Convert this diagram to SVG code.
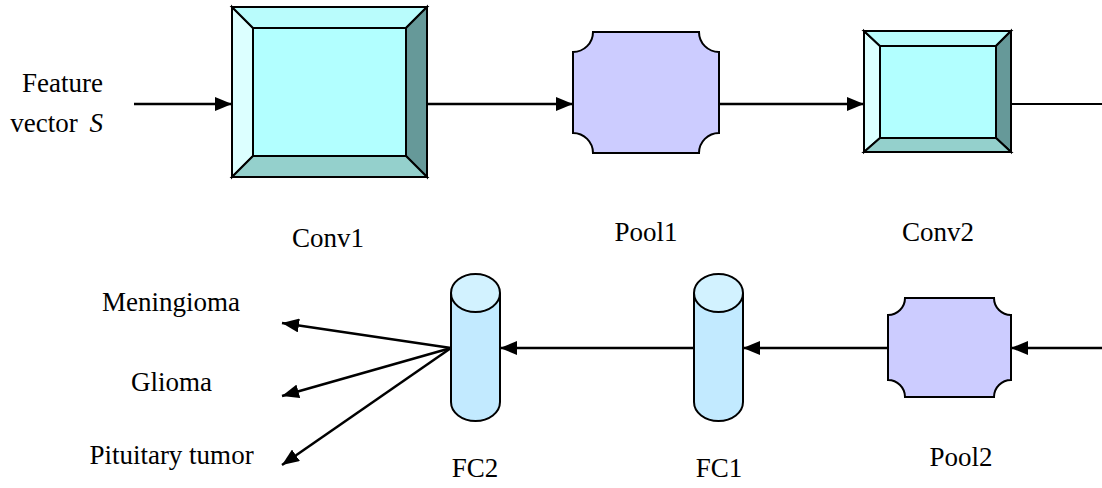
<svg xmlns="http://www.w3.org/2000/svg" width="1102" height="488" viewBox="0 0 1102 488">
  <style>
    .edge { fill: none; stroke: #000; stroke-width: 2.5; }
    .ol { stroke: #000; stroke-width: 2; stroke-linejoin: miter; }
    .bv-l { fill: #dcffff; }
    .bv-t { fill: #b9fcfc; }
    .bv-c { fill: #b2ffff; }
    .bv-r { fill: #669999; }
    .bv-b { fill: #94d0cc; }
    .pool { fill: #ccccff; stroke: #000; stroke-width: 2; }
    .cyl { fill: #c2eaff; stroke: #000; stroke-width: 2; }
    .cyl-top { fill: #d2f2ff; stroke: #000; stroke-width: 2; }
  </style>
  <defs>
    <marker id="arrow" markerUnits="userSpaceOnUse" markerWidth="18" markerHeight="14" refX="17" refY="7" orient="auto">
      <path d="M0,0 L17,7 L0,14 z" fill="#000"/>
    </marker>
  </defs>

  <rect width="1102" height="488" fill="#fff"/>

  <!-- connectors -->
  <g id="connectors">
    <line class="edge" x1="134" y1="104" x2="232" y2="104" marker-end="url(#arrow)"/>
    <line class="edge" x1="428" y1="104" x2="573" y2="104" marker-end="url(#arrow)"/>
    <line class="edge" x1="719" y1="104" x2="864" y2="104" marker-end="url(#arrow)"/>
    <line class="edge" x1="1012" y1="104" x2="1102" y2="104" style="stroke-width:2"/>
    <line class="edge" x1="1102" y1="348" x2="1011" y2="348" marker-end="url(#arrow)"/>
    <line class="edge" x1="888" y1="348" x2="743" y2="348" marker-end="url(#arrow)"/>
    <line class="edge" x1="694" y1="348" x2="500" y2="348" marker-end="url(#arrow)"/>
    <line class="edge" x1="451" y1="348" x2="282" y2="323" marker-end="url(#arrow)"/>
    <line class="edge" x1="451" y1="348" x2="282" y2="396" marker-end="url(#arrow)"/>
    <line class="edge" x1="451" y1="348" x2="282" y2="465" marker-end="url(#arrow)"/>
  </g>

  <g font-family="'Liberation Serif', 'DejaVu Serif', serif" font-size="27" fill="#000">
    <!-- input label -->
    <g id="input">
      <text x="103" y="92" text-anchor="end">Feature</text>
      <text x="103" y="132" text-anchor="end">vector <tspan dx="5" font-style="italic">S</tspan></text>
    </g>

    <!-- Conv1: bevelled block -->
    <g id="conv1">
      <polygon class="bv-l ol" points="232,7 253,28 253,156 232,177"/>
      <polygon class="bv-t ol" points="232,7 427,7 406,28 253,28"/>
      <polygon class="bv-r ol" points="427,7 427,177 406,156 406,28"/>
      <polygon class="bv-b ol" points="232,177 253,156 406,156 427,177"/>
      <rect class="bv-c ol" x="253" y="28" width="153" height="128"/>
      <text x="328" y="247" text-anchor="middle">Conv1</text>
    </g>

    <!-- Pool1: notched block -->
    <g id="pool1">
      <path class="pool" d="M593,32 L699,32 A20,20 0 0 0 719,52 L719,133 A20,20 0 0 0 699,153 L593,153 A20,20 0 0 0 573,133 L573,52 A20,20 0 0 0 593,32 Z"/>
      <text x="646" y="241" text-anchor="middle">Pool1</text>
    </g>

    <!-- Conv2: bevelled block -->
    <g id="conv2">
      <polygon class="bv-l ol" points="864,31 880,46 880,138 864,152"/>
      <polygon class="bv-t ol" points="864,31 1011,31 996,46 880,46"/>
      <polygon class="bv-r ol" points="1011,31 1011,152 996,138 996,46"/>
      <polygon class="bv-b ol" points="864,152 880,138 996,138 1011,152"/>
      <rect class="bv-c ol" x="880" y="46" width="116" height="92"/>
      <text x="938" y="241" text-anchor="middle">Conv2</text>
    </g>

    <!-- Pool2: notched block -->
    <g id="pool2">
      <path class="pool" d="M905,298 L994,298 A17,17 0 0 0 1011,315 L1011,380 A17,17 0 0 0 994,397 L905,397 A17,17 0 0 0 888,380 L888,315 A17,17 0 0 0 905,298 Z"/>
      <text x="961" y="466" text-anchor="middle">Pool2</text>
    </g>

    <!-- FC1: cylinder -->
    <g id="fc1">
      <path class="cyl" d="M694,293 L694,402 A24.5,19 0 0 0 743,402 L743,293"/>
      <ellipse class="cyl-top" cx="718.5" cy="293" rx="24.5" ry="19"/>
      <text x="719" y="477" text-anchor="middle">FC1</text>
    </g>

    <!-- FC2: cylinder -->
    <g id="fc2">
      <path class="cyl" d="M451,293 L451,402 A24.5,19 0 0 0 500,402 L500,293"/>
      <ellipse class="cyl-top" cx="475.5" cy="293" rx="24.5" ry="19"/>
      <text x="475" y="477" text-anchor="middle">FC2</text>
    </g>

    <!-- output classes -->
    <g id="outputs">
      <text x="171" y="311" text-anchor="middle">Meningioma</text>
      <text x="171.5" y="391" text-anchor="middle">Glioma</text>
      <text x="171.5" y="464" text-anchor="middle">Pituitary tumor</text>
    </g>
  </g>
</svg>
